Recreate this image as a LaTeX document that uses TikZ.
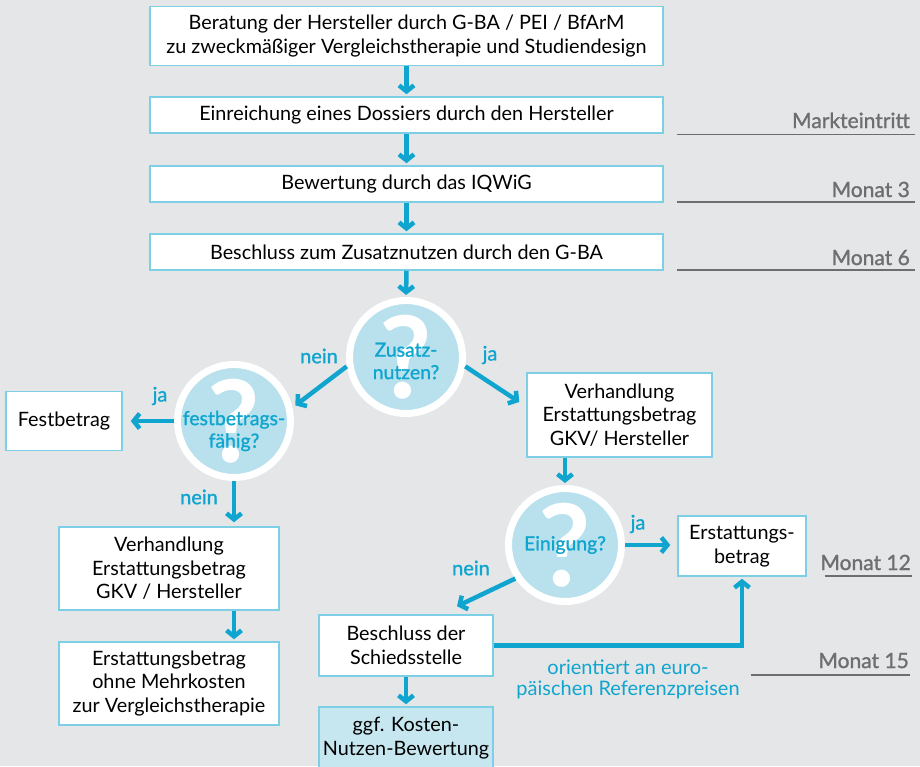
\documentclass[tikz,border=0pt]{standalone}
\usepackage{fontspec}
\setmainfont{Lato}
\usetikzlibrary{arrows.meta,calc}
\definecolor{bg}{HTML}{E5E6E8}
\definecolor{boxline}{HTML}{7DCFE6}
\definecolor{arrblue}{HTML}{0FA5CF}
\definecolor{circfill}{HTML}{B8E1ED}
\definecolor{graytxt}{HTML}{6D6E70}
\definecolor{ggffill}{HTML}{C6E6F0}
\newcommand\boxfont{\fontsize{19.8}{23.5}\selectfont}
\newcommand\lblfont{\fontsize{20}{22.5}\selectfont\addfontfeature{FakeBold=1.2}}
\newcommand\reffont{\fontsize{20}{21}\selectfont}
\newcommand\qfont{\fontsize{19.4}{22.5}\selectfont\addfontfeature{FakeBold=1.2}}
\newcommand\grayfont{\fontsize{21}{23}\selectfont\addfontfeature{FakeBold=1.2}}
\begin{document}
\begin{tikzpicture}[x=1pt,y=-1pt,
  box/.style={draw=boxline, line width=1.5pt, fill=white, inner sep=0pt, align=center, font=\boxfont, text=black},
  arr/.style={draw=arrblue, line width=4.5pt, -{Straight Barb[length=6pt,width=15pt]}},
  qcirc/.style={circle, draw=white, line width=7pt, fill=circfill, minimum size=113pt, inner sep=0pt},
  qmark/.style={text=white, font=\fontsize{114}{114}\selectfont\bfseries, inner sep=0pt},
  qtext/.style={text=arrblue, font=\qfont, align=center, inner sep=0pt},
  albl/.style={text=arrblue, font=\lblfont, inner sep=0pt},
  glabel/.style={text=graytxt, font=\grayfont, inner sep=0pt, anchor=base east},
  gline/.style={draw=graytxt, line width=1.5pt}
]
\useasboundingbox (0,0) rectangle (920,766);
\fill[bg] (0,0) rectangle (920,766);

% main column
\node[box, minimum width=513pt, minimum height=59pt] (b1) at (406.5,36) {Beratung der Hersteller durch G-BA / PEI / BfArM\\zu zweckmäßiger Vergleichstherapie und Studiendesign};
\node[box, minimum width=513pt, minimum height=36pt] (b2) at (406.5,115) {Einreichung eines Dossiers durch den Hersteller};
\node[box, minimum width=513pt, minimum height=36pt] (b3) at (406.5,184) {Bewertung durch das IQWiG};
\node[box, minimum width=513pt, minimum height=36pt] (b4) at (406.5,252) {Beschluss zum Zusatznutzen durch den G-BA};

% question circles
\node[qcirc] (Z) at (406,357) {};
\node[qmark] (Zq) at (Z) {?};
\node[qtext] (Zt) at (406,361) {Zusatz-\\nutzen?};

\node[qcirc] (F) at (234,421) {};
\node[qmark] (Fq) at (F) {?};
\node[qtext] (Ft) at (234,431) {festbetrags-\\fähig?};

\node[qcirc] (E) at (565,545) {};
\node[qmark] (Eq) at (E) {?};
\node[qtext] (Et) at (565,545) {Einigung?};

% other boxes
\node[box, minimum width=116pt, minimum height=59pt] (FB) at (64,421) {Festbetrag};
\node[box, minimum width=220pt, minimum height=83pt] (VL) at (169,568.5) {Verhandlung\\Erstattungsbetrag\\GKV / Hersteller};
\node[box, minimum width=220pt, minimum height=83pt] (EL) at (169,683.5) {Erstattungsbetrag\\ohne Mehrkosten\\zur Vergleichstherapie};
\node[box, minimum width=185pt, minimum height=84pt] (VR) at (619.5,415) {Verhandlung\\Erstattungsbetrag\\GKV/ Hersteller};
\node[box, minimum width=128pt, minimum height=60pt] (EB) at (742,546) {Erstattungs-\\betrag};
\node[box, minimum width=174pt, minimum height=61pt] (BS) at (406,645.5) {Beschluss der\\Schiedsstelle};
\node[box, fill=ggffill, minimum width=174pt, minimum height=62pt] (KN) at (406,738) {ggf. Kosten-\\Nutzen-Bewertung};

% arrows main column
\draw[arr, shorten >=2pt] (b1.south) -- (b2.north);
\draw[arr, shorten >=2pt] (b2.south) -- (b3.north);
\draw[arr, shorten >=2pt] (b3.south) -- (b4.north);
\draw[arr, shorten >=2pt] (b4.south) -- (Z.north);

% Zusatznutzen branches
\draw[arr] (Z.189) -- ([xshift=4pt,yshift=-2pt]F.17);
\draw[arr] (Z.351) -- ([xshift=-7pt,yshift=13pt]VR.west);
\node[albl] (nein1) at (319,356) {nein};
\node[albl] (ja1) at (490,355) {ja};

% festbetragsfaehig branches
\draw[arr, shorten >=8pt] (F.west) -- (FB.east);
\node[albl] (ja2) at (160,396) {ja};
\draw[arr, shorten >=4pt] (F.south) -- (F.south |- VL.north);
\node[albl] (nein2) at (199,497) {nein};
\draw[arr, shorten >=2pt] (F.south |- VL.south) -- (F.south |- EL.north);

% right branch
\draw[arr, shorten >=2pt] (E.north |- VR.south) -- (E.north);
\draw[arr, shorten >=7pt] (E.east) -- (E.east -| EB.west);
\node[albl] (ja3) at (638,524) {ja};
\draw[arr] (E.214) -- ([xshift=51pt,yshift=8pt]BS.north);
\node[albl] (nein3) at (471,568) {nein};
\draw[arr, shorten >=2pt] (BS.east) -| (EB.south);
\node[albl, font=\reffont, align=center] (ref) at (628,679) {orientiert an euro-\\päischen Referenzpreisen};
\draw[arr, shorten >=2pt] (BS.south) -- (KN.north);

% time line
\node[glabel] (m0) at (910,128) {Markteintritt};
\draw[gline] (677,134.5) -- (915,134.5);
\node[glabel] (m3) at (910,197) {Monat 3};
\draw[gline] (677,202) -- (915,202);
\node[glabel] (m6) at (910,265) {Monat 6};
\draw[gline] (677,270) -- (915,270);
\node[glabel] (m12) at (911,570) {Monat 12};
\draw[gline] (825,576) -- (912,576);
\node[glabel] (m15) at (909,668) {Monat 15};
\draw[gline] (751,675) -- (910,675);
\end{tikzpicture}
\end{document}
